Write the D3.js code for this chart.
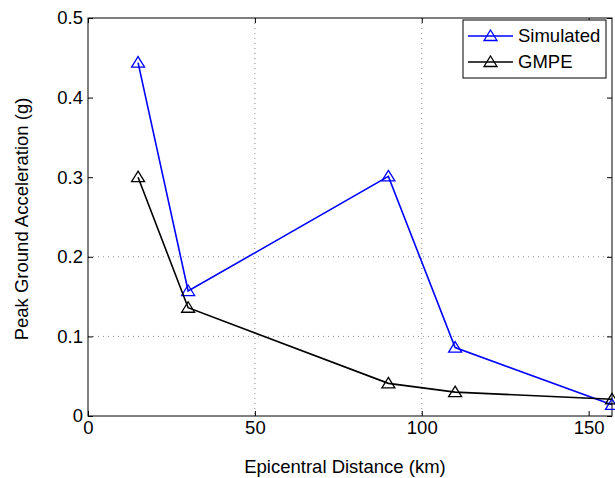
<!DOCTYPE html>
<html>
<head>
<meta charset="utf-8">
<script src="https://cdn.jsdelivr.net/npm/d3@7"></script>
<style>
body { margin: 0; background: #fff; }
svg text { font-family: "Liberation Sans", Arial, sans-serif; }
</style>
</head>
<body>
<div id="chart"></div>
<script>
// data
var distance = [15, 30, 90, 110, 157];
var simulated = [0.444, 0.157, 0.301, 0.086, 0.014];
var gmpe = [0.300, 0.136, 0.041, 0.030, 0.021];
var xTicks = [0, 50, 100, 150];
var yTicks = [0, 0.1, 0.2, 0.3, 0.4, 0.5];
var xGrid = [50, 100];
var yGrid = [0.1, 0.2];
var seriesNames = ["Simulated", "GMPE"];
var seriesColors = ["#0000ff", "#000000"];

var svgWidth = 615, svgHeight = 478;
var margin = {top: 18, right: 3, bottom: 62, left: 88},
width = svgWidth - margin.left - margin.right,
height = svgHeight - margin.top - margin.bottom;

var svg = d3.select("#chart")
	.append("svg")
		.attr("width", svgWidth)
		.attr("height", svgHeight)
	.append("g")
		.attr("transform", `translate(${margin.left},${margin.top})`);

var x = d3.scaleLinear().domain([0, 157]).range([0, width]);
var y = d3.scaleLinear().domain([0, 0.5]).range([height, 0]);

// dotted grid
xGrid.forEach(v => {
	svg.append("line")
		.attr("x1", x(v)).attr("x2", x(v))
		.attr("y1", 0).attr("y2", height)
		.attr("stroke", "#888").attr("stroke-width", 1)
		.attr("stroke-dasharray", "1,4");
})
yGrid.forEach(v => {
	svg.append("line")
		.attr("x1", 0).attr("x2", width)
		.attr("y1", y(v)).attr("y2", y(v))
		.attr("stroke", "#888").attr("stroke-width", 1)
		.attr("stroke-dasharray", "1,4");
})

// axes with inward ticks
var xAxis = svg.append("g")
	.attr("transform", `translate(0, ${height})`)
	.call(d3.axisBottom(x).tickValues(xTicks).tickSize(-5).tickPadding(5).tickFormat(d3.format("d")));
var yAxis = svg.append("g")
	.call(d3.axisLeft(y).tickValues(yTicks).tickSize(-5).tickPadding(5).tickFormat(d => d === 0 ? "0" : d3.format(".1f")(d)));
svg.append("g")
	.call(d3.axisTop(x).tickValues(xTicks).tickSize(-5).tickFormat(""));
svg.append("g")
	.attr("transform", `translate(${width}, 0)`)
	.call(d3.axisRight(y).tickValues(yTicks).tickSize(-5).tickFormat(""));

svg.selectAll(".domain").remove();
svg.selectAll(".tick line").attr("stroke", "#000");
svg.selectAll(".tick text").style("font-size", "18.5px").attr("fill", "#000");

svg.append("rect")
	.attr("width", width).attr("height", height)
	.attr("fill", "none").attr("stroke", "#000").attr("stroke-width", 1);

// series
var triangle = "M0,-6L6.5,4.5L-6.5,4.5Z";
[simulated, gmpe].forEach((vals, i) => {
	var pts = distance.map((d, j) => [d, vals[j]]);
	svg.append("path")
		.datum(pts)
		.attr("fill", "none")
		.attr("stroke", seriesColors[i])
		.attr("stroke-width", 1.6)
		.attr("d", d3.line().x(d => x(d[0])).y(d => y(d[1])));
	svg.selectAll(".mk" + i)
		.data(pts)
		.enter().append("path")
		.attr("class", "mk" + i)
		.attr("d", triangle)
		.attr("transform", d => `translate(${x(d[0])},${y(d[1])})`)
		.attr("fill", "none")
		.attr("stroke", seriesColors[i])
		.attr("stroke-width", 1.3);
})

// axis labels
svg.append("text")
	.attr("x", width / 2 - 5)
	.attr("y", height + 57)
	.attr("text-anchor", "middle")
	.style("font-size", "18.5px")
	.text("Epicentral Distance (km)");
svg.append("text")
	.attr("transform", `translate(${-60}, ${height / 2 + 2}) rotate(-90)`)
	.attr("text-anchor", "middle")
	.style("font-size", "18.5px")
	.text("Peak Ground Acceleration (g)");

// legend
var lg = svg.append("g").attr("transform", `translate(${463 - margin.left}, ${20 - margin.top})`);
lg.append("rect")
	.attr("width", 143).attr("height", 58)
	.attr("fill", "#fff").attr("stroke", "#000").attr("stroke-width", 1);
seriesNames.forEach((name, i) => {
	var yy = 16 + i * 26;
	lg.append("line")
		.attr("x1", 5).attr("x2", 50).attr("y1", yy).attr("y2", yy)
		.attr("stroke", seriesColors[i]).attr("stroke-width", 1.6);
	lg.append("path")
		.attr("d", triangle)
		.attr("transform", `translate(27.5,${yy})`)
		.attr("fill", "none")
		.attr("stroke", seriesColors[i])
		.attr("stroke-width", 1.3);
	lg.append("text")
		.attr("x", 55).attr("y", yy)
		.attr("dy", "0.35em")
		.style("font-size", "18.5px")
		.text(name);
})
</script>
</body>
</html>
